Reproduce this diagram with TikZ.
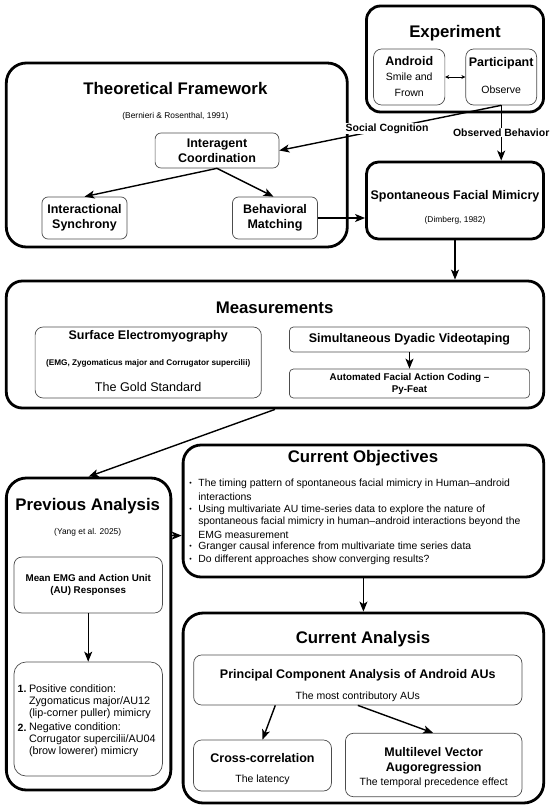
\documentclass[tikz,border=0pt]{standalone}
\usepackage{fontspec}
\setmainfont{Liberation Sans}
\usetikzlibrary{arrows.meta,calc}
\begin{document}
\begin{tikzpicture}[x=1pt,y=-1pt,
  outer/.style={draw=black,line width=2.8pt,rounded corners=16pt},
  inner/.style={draw=black!70,line width=0.7pt,rounded corners=6pt},
  conn/.style={line width=1.4pt,-{Stealth[length=10pt,width=8pt,inset=2.5pt]}},
  lbl/.style={fill=white,inner sep=1pt,font=\fontsize{10.5}{12}\selectfont\bfseries},
  ttl/.style={inner sep=0pt,font=\fontsize{16.8}{19}\selectfont\bfseries},
  hb/.style={inner sep=0pt,align=center,font=\fontsize{12.5}{15}\selectfont\bfseries},
  hs/.style={inner sep=0pt,align=center,font=\fontsize{9.8}{12}\selectfont\bfseries},
  tx/.style={inner sep=0pt,align=center,font=\fontsize{10.5}{15.5}\selectfont},
  cite/.style={inner sep=0pt,font=\fontsize{8.4}{10}\selectfont},
  bl/.style={inner sep=0pt,anchor=west,font=\fontsize{10.4}{12.5}\selectfont},
  cl/.style={inner sep=0pt,anchor=west,font=\fontsize{10.8}{12.5}\selectfont},
]
\useasboundingbox (0,0) rectangle (550,811);

% outer boxes
\node[outer, minimum width=177pt, minimum height=106pt, rounded corners=14pt] (exp) at (455,59) {};
\node[outer, minimum width=341pt, minimum height=184pt, rounded corners=20pt] (theo) at (176.8,155) {};
\node[outer, minimum width=177pt, minimum height=77pt, rounded corners=12pt] (sfm) at (455,200.5) {};
\node[outer, minimum width=537.4pt, minimum height=127pt, rounded corners=16pt] (meas) at (275,344.5) {};
\node[outer, minimum width=164.5pt, minimum height=312pt, rounded corners=20pt] (prev) at (88.6,634) {};
\node[outer, minimum width=360.6pt, minimum height=132pt, rounded corners=18pt] (obj) at (363.4,511) {};
\node[outer, minimum width=360.6pt, minimum height=190pt, rounded corners=20pt] (ana) at (363.4,708) {};

% Experiment
\node[ttl] (expT) at (455,33) {Experiment};
\node[inner, minimum width=71.3pt, minimum height=56pt, rounded corners=8pt] (android) at (409.2,77) {};
\node[inner, minimum width=70.9pt, minimum height=56pt, rounded corners=8pt] (particip) at (501.2,77) {};
\node[hb] (androidT) at (409.2,61.5) {Android};
\node[tx] (androidS) at (409.2,84.5) {Smile and\\Frown};
\node[hb] (participT) at (501.2,63) {Participant};
\node[inner sep=0pt,font=\fontsize{10.5}{12}\selectfont] (participS) at (501.2,90) {Observe};
\draw[line width=0.8pt,{Stealth[length=4pt,width=4pt]}-{Stealth[length=4pt,width=4pt]}] (android.east) -- (particip.west);

% Theoretical framework
\node[ttl] (theoT) at (175.4,88) {Theoretical Framework};
\node[cite] (theoC) at (175.4,116) {(Bernieri \& Rosenthal, 1991)};
\node[inner, hb, minimum width=123.8pt, minimum height=35pt] (inter) at (217,150.5) {Interagent\\Coordination};
\node[inner, hb, minimum width=85pt, minimum height=42pt] (synch) at (84.5,218) {Interactional\\Synchrony};
\node[inner, hb, minimum width=85pt, minimum height=42pt] (match) at (275,218) {Behavioral\\Matching};
\draw[conn] (inter.south) -- (synch.north);
\draw[conn] (inter.south) -- ([xshift=-1.5pt]match.north);

% Spontaneous facial mimicry
\node[hb] (sfmT) at (455,196) {Spontaneous Facial Mimicry};
\node[cite] (sfmC) at (455,220) {(Dimberg, 1982)};

\draw[conn] (particip.south) -- node[lbl,pos=0.514] (soc) {Social Cognition} (inter.east);
\draw[conn] (particip.south) -- node[lbl,pos=0.49] (obs) {Observed Behavior} (particip.south |- sfm.north);
\draw[conn] (match.east) -- (match.east -| sfm.west);
\draw[conn] (sfm.south) -- (sfm.south |- meas.north);

% Measurements
\node[ttl] (measT) at (274.6,308) {Measurements};
\node[inner, minimum width=226.2pt, minimum height=71pt, rounded corners=8pt] (emg) at (148.2,362.5) {};
\node[hb] (emgT) at (148.2,336) {Surface Electromyography};
\node[inner sep=0pt,font=\fontsize{8.2}{9}\selectfont\bfseries] (emgC) at (148.2,363) {(EMG, Zygomaticus major and Corrugator supercilii)};
\node[inner sep=0pt,font=\fontsize{12.6}{15}\selectfont] (emgS) at (148.2,387) {The Gold Standard};
\node[inner, hb, minimum width=240.2pt, minimum height=25pt, rounded corners=4pt] (video) at (409.5,339.5) {Simultaneous Dyadic Videotaping};
\node[inner, hs, minimum width=240.2pt, minimum height=29pt, rounded corners=4pt] (afac) at (409.5,383.5) {Automated Facial Action Coding --\\Py-Feat};
\draw[conn] (video.south) -- (afac.north);
\draw[conn] (meas.south) -- (prev.north);

% Previous analysis
\node[ttl] (prevT) at (87.7,506) {Previous Analysis};
\node[cite] (prevC) at (87.7,532) {(Yang et al. 2025)};
\node[inner, hs, minimum width=148.4pt, minimum height=56pt, rounded corners=8pt] (mean) at (88.2,585) {Mean EMG and Action Unit\\(AU) Responses};
\node[inner, minimum width=148.4pt, minimum height=114pt, rounded corners=12pt] (cond) at (88.2,719) {};
\draw[conn] (mean.south) -- (cond.north);
\node[cl,font=\fontsize{10.5}{12.5}\selectfont\bfseries] (n1) at (17.5,689) {1.};
\node[cl] (c1) at (28.8,689) {Positive condition:};
\node[cl] (c2) at (28.8,701.5) {Zygomaticus major/AU12};
\node[cl] (c3) at (28.8,713.5) {(lip-corner puller) mimicry};
\node[cl,font=\fontsize{10.5}{12.5}\selectfont\bfseries] (n2) at (17.5,728) {2.};
\node[cl] (c4) at (28.8,728) {Negative condition:};
\node[cl] (c5) at (28.8,740) {Corrugator supercilii/AU04};
\node[cl] (c6) at (28.8,752) {(brow lowerer) mimicry};
\draw[conn] ([yshift=-59pt]prev.north east) -- ([yshift=-59pt]prev.north east -| obj.west);

% Current objectives
\node[ttl] (objT) at (363,458) {Current Objectives};
\foreach \yy/\nm in {484/b1,510/b2,547/b3,560/b4}{
  \node[inner sep=0pt,font=\fontsize{7}{8}\selectfont] (\nm) at (190.5,\yy) {•};
}
\node[bl] (o1) at (198.2,484) {The timing pattern of spontaneous facial mimicry in Human–android};
\node[bl] (o2) at (198.2,497) {interactions};
\node[bl] (o3) at (198.2,510) {Using multivariate AU time-series data to explore the nature of};
\node[bl] (o4) at (198.2,522) {spontaneous facial mimicry in human–android interactions beyond the};
\node[bl] (o5) at (198.2,534.5) {EMG measurement};
\node[bl] (o6) at (198.2,547) {Granger causal inference from multivariate time series data};
\node[bl] (o7) at (198.2,560) {Do different approaches show converging results?};
\draw[conn] (obj.south) -- (ana.north);

% Current analysis
\node[ttl] (anaT) at (363,639) {Current Analysis};
\node[inner, minimum width=328.3pt, minimum height=50pt, rounded corners=8pt] (pca) at (357.8,680) {};
\node[hb] (pcaT) at (357.8,675) {Principal Component Analysis of Android AUs};
\node[inner sep=0pt,font=\fontsize{10.5}{12}\selectfont] (pcaS) at (357.8,697) {The most contributory AUs};
\node[inner, minimum width=137.9pt, minimum height=51pt, rounded corners=8pt] (xcorr) at (262.5,765.5) {};
\node[hb] (xcorrT) at (262.5,758) {Cross-correlation};
\node[inner sep=0pt,font=\fontsize{10.5}{12}\selectfont] (xcorrS) at (262.5,780) {The latency};
\node[inner, minimum width=176.6pt, minimum height=63.4pt, rounded corners=8pt] (mvar) at (433.7,765) {};
\node[hb] (mvarT) at (433.7,760.5) {Multilevel Vector\\Augoregression};
\node[inner sep=0pt,font=\fontsize{10.5}{12}\selectfont] (mvarS) at (433.7,783) {The temporal precedence effect};
\draw[conn] ([xshift=-82.5pt]pca.south) -- (xcorr.north);
\draw[conn] (pca.south) -- ([xshift=-0.5pt]mvar.north);
\end{tikzpicture}
\end{document}
